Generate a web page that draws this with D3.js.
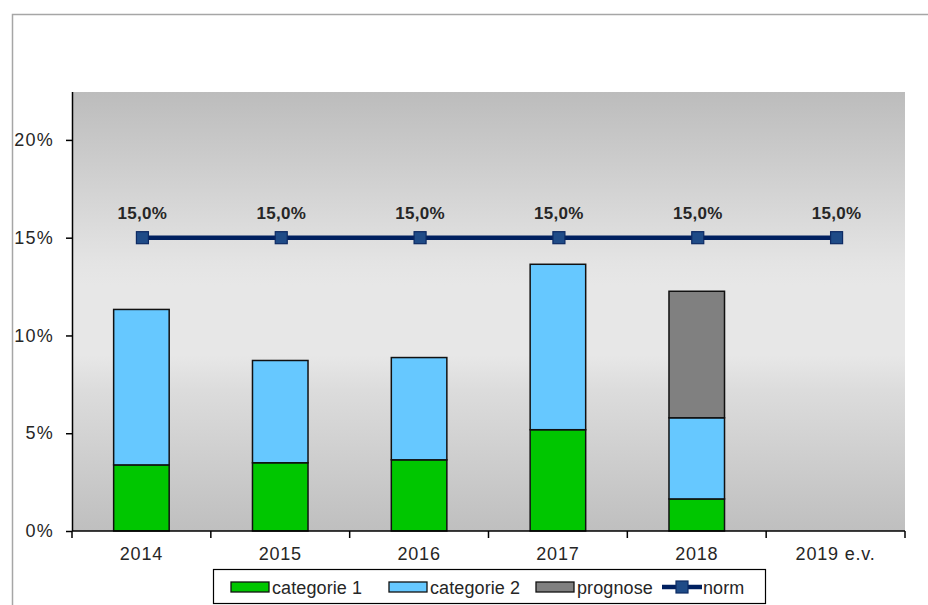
<!DOCTYPE html>
<html>
<head>
<meta charset="utf-8">
<script src="https://cdn.jsdelivr.net/npm/d3@7"></script>
<style>
  body { margin: 0; background: #fff; }
  svg { display: block; font-family: "Liberation Sans", Arial, sans-serif; }
</style>
</head>
<body>
<div id="chart"></div>
<script>
// data
const years = ["2014", "2015", "2016", "2017", "2018", "2019 e.v."];
const cat1 = [3.38, 3.49, 3.64, 5.18, 1.64, 0];
const cat2 = [7.95, 5.23, 5.23, 8.46, 4.15, 0];
const prognose = [0, 0, 0, 0, 6.47, 0];
const norm = [15, 15, 15, 15, 15, 15];
const yTicks = [0, 5, 10, 15, 20];

const width = 928, height = 605;
const margin = {top: 92, right: 23, bottom: 74, left: 72};

const svg = d3.select("#chart").append("svg")
    .attr("width", width)
    .attr("height", height);

// outer chart border (only left and top visible)
svg.append("path")
    .attr("d", "M12.5,605 V14.5 H928")
    .attr("fill", "none")
    .attr("stroke", "#a6a6a6")
    .attr("stroke-width", 1.5);

const x = d3.scaleBand()
    .domain(years)
    .range([margin.left, width - margin.right])
    .paddingInner(0.6)
    .paddingOuter(0.3);

const xOuter = d3.scaleBand()
    .domain(years)
    .range([margin.left, width - margin.right]);

const y = d3.scaleLinear()
    .domain([0, 22.45])
    .range([height - margin.bottom, margin.top]);

// background gradient
const grad = svg.append("defs").append("linearGradient")
    .attr("id", "bg")
    .attr("x1", 0).attr("y1", 0).attr("x2", 0).attr("y2", 1);
[[0, "#bcbcbc"], [0.39, "#e4e4e4"], [0.44, "#e7e7e7"], [0.6, "#e7e7e7"], [0.68, "#dcdcdc"], [1, "#bfbfbf"]]
  .forEach(s => grad.append("stop").attr("offset", s[0]).attr("stop-color", s[1]));

svg.append("rect")
    .attr("x", margin.left)
    .attr("y", margin.top)
    .attr("width", width - margin.right - margin.left)
    .attr("height", height - margin.bottom - margin.top)
    .attr("fill", "url(#bg)");

// stacked bars
const stackData = years.map((yr, i) => ({year: yr, c1: cat1[i], c2: cat2[i], pr: prognose[i]}));
const keys = ["c1", "c2", "pr"];
const colors = {c1: "#00c600", c2: "#66c8ff", pr: "#808080"};
const series = d3.stack().keys(keys)(stackData);

svg.append("g")
  .selectAll("g")
  .data(series)
  .join("g")
    .attr("fill", d => colors[d.key])
  .selectAll("rect")
  .data(d => d.filter(p => p[1] - p[0] > 0))
  .join("rect")
    .attr("x", d => x(d.data.year))
    .attr("y", d => y(d[1]))
    .attr("width", x.bandwidth())
    .attr("height", d => y(d[0]) - y(d[1]))
    .attr("stroke", "#111")
    .attr("stroke-width", 1.5);

// axes
const yAxis = svg.append("g")
    .attr("transform", `translate(${margin.left},0)`)
    .call(d3.axisLeft(y).tickValues(yTicks).tickFormat(d => d + "%").tickSize(6).tickPadding(12));
yAxis.select(".domain").attr("stroke", "#000").attr("stroke-width", 1.5)
    .attr("d", `M0.5,${margin.top}V${height - margin.bottom}`);
yAxis.selectAll("line").attr("stroke", "#000").attr("stroke-width", 1.5);
yAxis.selectAll("text").attr("font-size", 18).attr("fill", "#262626").attr("letter-spacing", 1.2)
    .attr("font-family", "'Liberation Sans', Arial, sans-serif");

const xAxis = svg.append("g")
    .attr("transform", `translate(0,${height - margin.bottom})`);
xAxis.append("line")
    .attr("x1", margin.left).attr("x2", width - margin.right)
    .attr("stroke", "#000").attr("stroke-width", 1.5);
const edges = years.map(d => xOuter(d)).concat([width - margin.right]);
xAxis.selectAll("line.tick")
  .data(edges)
  .join("line")
    .attr("class", "tick")
    .attr("x1", d => d).attr("x2", d => d)
    .attr("y1", 0).attr("y2", 7)
    .attr("stroke", "#000").attr("stroke-width", 1.5);
xAxis.selectAll("text")
  .data(years)
  .join("text")
    .attr("x", d => xOuter(d) + xOuter.bandwidth() / 2)
    .attr("y", 29)
    .attr("text-anchor", "middle")
    .attr("font-size", 18)
    .attr("letter-spacing", 0.8)
    .attr("fill", "#262626")
    .text(d => d);

// norm line
const cx = d => x(d) + x.bandwidth() / 2 + 1;
const normData = years.map((yr, i) => ({year: yr, v: norm[i]}));
svg.append("path")
    .datum(normData)
    .attr("fill", "none")
    .attr("stroke", "#002060")
    .attr("stroke-width", 4.5)
    .attr("d", d3.line().x(d => cx(d.year)).y(d => y(d.v)));

svg.append("g")
  .selectAll("rect")
  .data(normData)
  .join("rect")
    .attr("x", d => cx(d.year) - 6)
    .attr("y", d => y(d.v) - 6)
    .attr("width", 12)
    .attr("height", 12)
    .attr("fill", "#1f4b87")
    .attr("stroke", "#0d2a63")
    .attr("stroke-width", 1.2);

svg.append("g")
  .selectAll("text")
  .data(normData)
  .join("text")
    .attr("x", d => cx(d.year))
    .attr("y", d => y(d.v) - 19)
    .attr("text-anchor", "middle")
    .attr("font-size", 17)
    .attr("font-weight", "bold")
    .attr("letter-spacing", 0.3)
    .attr("fill", "#262626")
    .text(d => d3.format(".1f")(d.v).replace(".", ",") + "%");

// legend
const legend = svg.append("g");
legend.append("rect")
    .attr("x", 213.5).attr("y", 569.5)
    .attr("width", 552).attr("height", 34)
    .attr("fill", "#fff")
    .attr("stroke", "#000")
    .attr("stroke-width", 1.2);

const legItems = [
  {label: "categorie 1", type: "rect", color: colors.c1, x: 231},
  {label: "categorie 2", type: "rect", color: colors.c2, x: 389},
  {label: "prognose", type: "rect", color: colors.pr, x: 536},
  {label: "norm", type: "line", color: "#002060", x: 662}
];
const li = legend.selectAll("g.item")
  .data(legItems)
  .join("g")
    .attr("class", "item")
    .attr("transform", d => `translate(${d.x},587)`);
li.filter(d => d.type === "rect").append("rect")
    .attr("x", 0).attr("y", -5)
    .attr("width", 38).attr("height", 10)
    .attr("fill", d => d.color)
    .attr("stroke", "#111")
    .attr("stroke-width", 1.3);
li.filter(d => d.type === "line").append("line")
    .attr("x1", 0).attr("x2", 40)
    .attr("stroke", d => d.color)
    .attr("stroke-width", 4.5);
li.filter(d => d.type === "line").append("rect")
    .attr("x", 14).attr("y", -6)
    .attr("width", 12).attr("height", 12)
    .attr("fill", "#1f4b87")
    .attr("stroke", "#0d2a63")
    .attr("stroke-width", 1.2);
li.append("text")
    .attr("x", 41)
    .attr("y", 6.5)
    .attr("font-size", 18)
    .attr("letter-spacing", 0.1)
    .attr("fill", "#262626")
    .text(d => d.label);
</script>
</body>
</html>
